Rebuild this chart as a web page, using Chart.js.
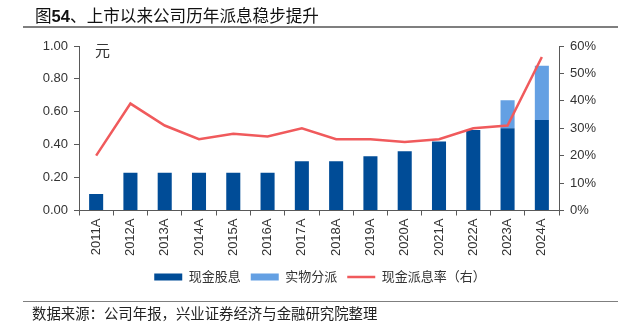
<!DOCTYPE html>
<html>
<head>
<meta charset="utf-8">
<script src="https://cdn.jsdelivr.net/npm/chart.js@4"></script>
<style>
  html, body { margin: 0; padding: 0; background: #fff; }
  body { width: 618px; height: 331px; position: relative; overflow: hidden;
         font-family: "Liberation Sans", "Noto Sans CJK SC", sans-serif; }
  #wrap { position: absolute; left: 0; top: 0; width: 618px; height: 331px; }
  .title { position: absolute; left: 35px; top: 4px; font-size: 16.6px; line-height: 22px; color: #111;
           font-family: "Noto Sans CJK SC", sans-serif; }
  .title b { font-family: "Liberation Sans", sans-serif; font-weight: bold; }
  .rule { position: absolute; left: 23px; width: 595px; height: 1.5px; background: #7f7f7f; }
  .source { position: absolute; left: 32px; top: 302px; font-size: 14.4px; line-height: 21px; color: #222;
            font-family: "Noto Sans CJK SC", sans-serif; }
</style>
</head>
<body>
<div id="wrap"><canvas id="c" width="618" height="331"></canvas></div>
<div class="title">图<b>54</b>、上市以来公司历年派息稳步提升</div>
<div class="rule" style="top:26px"></div>
<div class="rule" style="top:300.5px"></div>
<div class="source">数据来源：公司年报，兴业证券经济与金融研究院整理</div>
<script>
// 数据
const anos = ["2011A", "2012A", "2013A", "2014A", "2015A", "2016A", "2017A",
              "2018A", "2019A", "2020A", "2021A", "2022A", "2023A", "2024A"];
const dividendoCaixa = [0.10, 0.23, 0.23, 0.23, 0.23, 0.23, 0.30, 0.30, 0.33, 0.36, 0.42, 0.49, 0.50, 0.55];
const distribuicaoEspecie = [null, null, null, null, null, null, null, null, null, null, null, null, 0.17, 0.33];
const taxaPayout = [20, 39, 31, 26, 28, 27, 30, 26, 26, 25, 26, 30, 31, 56];
const ticksEsquerda = [0, 0.2, 0.4, 0.6, 0.8, 1.0];
const ticksDireita = [0, 10, 20, 30, 40, 50, 60];

const AZUL_ESCURO = "#004C97";
const AZUL_CLARO = "#64A0E3";
const VERMELHO = "#F05A5C";
const CINZA_EIXO = "#595959";
const FONTE = "'Liberation Sans', 'Noto Sans CJK SC', sans-serif";

// unidade "元" no topo do eixo esquerdo
const unidadePlugin = {
  id: "unidade",
  afterDraw(chart) {
    const { ctx, chartArea } = chart;
    ctx.save();
    ctx.font = "15px 'Noto Sans CJK SC', sans-serif";
    ctx.fillStyle = "#333";
    ctx.textBaseline = "middle";
    ctx.fillText("元", chartArea.left + 16, chartArea.top + 4);
    ctx.restore();
  }
};

const eixoComum = {
  grid: { display: true, drawOnChartArea: false, drawTicks: true, tickLength: 5, color: CINZA_EIXO },
  border: { display: true, color: CINZA_EIXO, width: 1 },
};

new Chart(document.getElementById("c").getContext("2d"), {
  type: "bar",
  data: {
    labels: anos,
    datasets: [
      {
        label: "现金股息",
        data: dividendoCaixa,
        backgroundColor: AZUL_ESCURO,
        yAxisID: "y",
        stack: "s",
        order: 1,
        pointStyle: "rect",
        categoryPercentage: 1,
        barPercentage: 0.41,
      },
      {
        label: "实物分派",
        data: distribuicaoEspecie,
        backgroundColor: AZUL_CLARO,
        yAxisID: "y",
        stack: "s",
        order: 1,
        pointStyle: "rect",
        categoryPercentage: 1,
        barPercentage: 0.41,
      },
      {
        type: "line",
        label: "现金派息率（右）",
        data: taxaPayout,
        borderColor: VERMELHO,
        backgroundColor: VERMELHO,
        borderWidth: 2.5,
        pointRadius: 0,
        tension: 0,
        yAxisID: "y1",
        order: 0,
        pointStyle: "line",
      },
    ],
  },
  options: {
    responsive: false,
    animation: false,
    events: [],
    layout: { padding: { left: 22, right: 0, top: 46, bottom: 37.5 } },
    plugins: {
      tooltip: { enabled: false },
      legend: {
        position: "bottom",
        labels: {
          usePointStyle: true,
          pointStyleWidth: 28,
          boxHeight: 7,
          padding: 10,
          color: "#333",
          font: { size: 13, family: FONTE },
          sort: (a, b) => a.datasetIndex - b.datasetIndex,
        },
      },
    },
    scales: {
      x: {
        ...eixoComum,
        stacked: true,
        offset: true,
        grid: { ...eixoComum.grid, offset: true },
        ticks: { minRotation: 90, maxRotation: 90, autoSkip: false, padding: 3, color: "#333",
                 font: { size: 13, family: FONTE } },
        afterFit: (s) => { s.height = 50; },
      },
      y: {
        ...eixoComum,
        position: "left",
        stacked: true,
        min: 0,
        max: 1,
        afterBuildTicks: (s) => { s.ticks = ticksEsquerda.map(v => ({ value: v })); },
        ticks: { padding: 6, color: "#333", font: { size: 13, family: FONTE },
                 callback: (v) => Number(v).toFixed(2) },
        afterFit: (s) => { s.width = 57; },
      },
      y1: {
        ...eixoComum,
        position: "right",
        min: 0,
        max: 60,
        afterBuildTicks: (s) => { s.ticks = ticksDireita.map(v => ({ value: v })); },
        ticks: { padding: 6, color: "#333", font: { size: 13, family: FONTE },
                 callback: (v) => v + "%" },
        afterFit: (s) => { s.width = 59; },
      },
    },
  },
  plugins: [unidadePlugin],
});
</script>
</body>
</html>
